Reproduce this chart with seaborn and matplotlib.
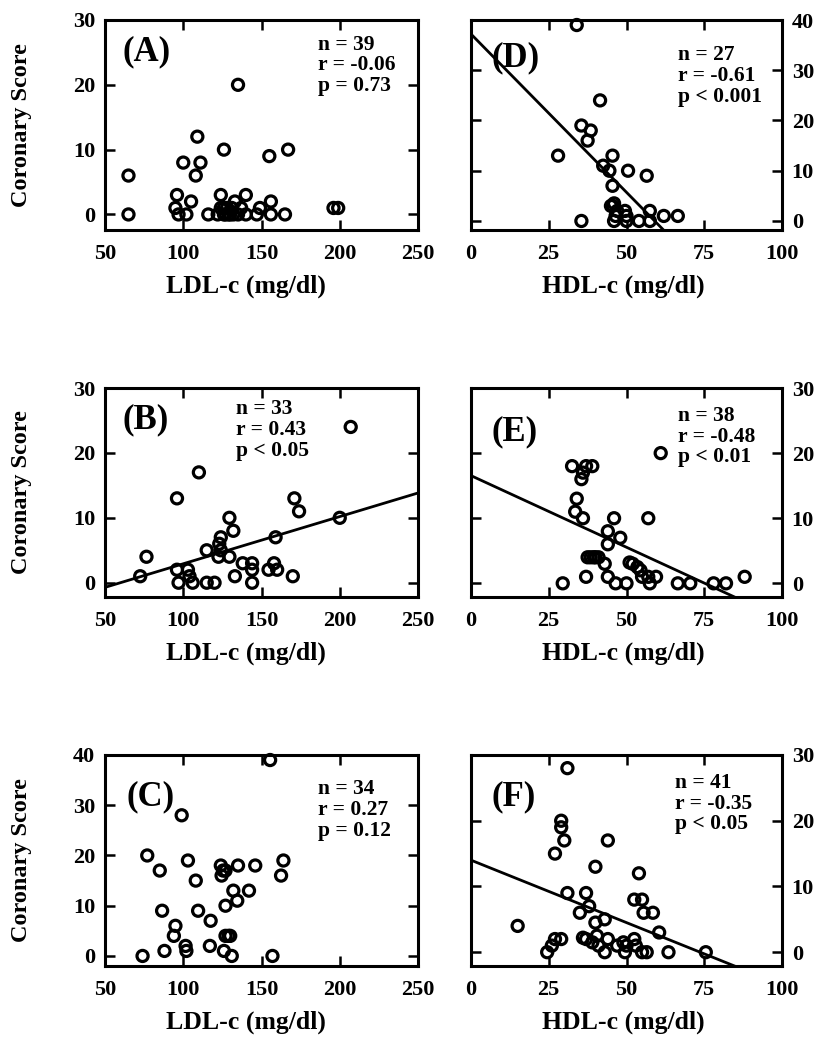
import numpy as np
import pandas as pd
import matplotlib
matplotlib.use("Agg")
import matplotlib.pyplot as plt
import seaborn as sns

sns.set_style("ticks")
plt.rcParams["font.family"] = ["Liberation Serif", "DejaVu Serif"]
plt.rcParams["font.weight"] = "bold"
for key in ["text.color", "axes.labelcolor", "xtick.color", "ytick.color", "axes.edgecolor"]:
    plt.rcParams[key] = "black"

# ---- data: coronary score vs LDL-c (left) and HDL-c (right) ----
ldl_a = [65, 65, 135, 109, 100, 111, 108, 126, 155, 167,
         96, 95, 97, 102, 105, 116, 122, 124, 124, 126,
         128, 129, 131, 132, 133, 135, 140, 140, 147, 149,
         156, 156, 165, 196, 199, 127, 130, 126, 137]
score_a = [6, 0, 20, 12, 8, 8, 6, 10, 9, 10,
           3, 1, 0, 0, 2, 0, 0, 3, 1, 0,
           1, 0, 1, 0, 2, 0, 3, 0, 0, 1,
           2, 0, 0, 1, 1, 0, 0, 1, 1]

ldl_b = [72.5, 76.5, 96, 110, 207, 96, 97, 103, 104, 106,
         115, 115, 120, 122.5, 123, 124, 129.5, 132, 129.5, 133,
         138, 144, 144, 144, 154.5, 158, 160, 159, 171, 174,
         170, 200, 124]
score_b = [1, 4, 13, 17, 24, 2, 0, 2, 1, 0,
           5, 0, 0, 4, 6, 7, 10, 8, 4, 1,
           3, 3, 2, 0, 2, 3, 2, 7, 13, 11,
           1, 10, 5]

ldl_c = [74, 77, 85, 86.5, 88, 95, 94, 99, 101.5, 102,
         103, 108, 109.5, 117.5, 117, 124, 124.5, 127, 126, 127,
         127, 130, 131, 132, 134.5, 135, 142, 146, 155.5, 157,
         162.5, 164, 125.5, 129]
score_c = [0, 20, 17, 9, 1, 6, 4, 28, 2, 1,
           19, 15, 9, 7, 2, 18, 16, 17, 1, 10,
           4, 4, 0, 13, 11, 18, 13, 18, 39, 0,
           16, 19, 17, 4]

hdl_d = [34, 41.5, 35.5, 38.5, 37.5, 28, 45.5, 42.5, 44.5, 50.5,
         56.5, 45.5, 45, 45.5, 46, 47, 49.5, 50, 57.5, 62,
         66.5, 35.5, 46, 50, 54, 57.5, 46.5]
score_d = [39, 24, 19, 18, 16, 13, 13, 11, 10, 10,
           9, 7, 3, 3, 3.5, 2, 2, 1, 2, 1,
           1, 0, 0, 0, 0, 0, 1]

hdl_e = [29.5, 32.5, 37, 39, 36, 35.5, 34, 33.5, 36, 37,
         37.5, 38.5, 39.5, 41, 43, 44, 44, 44, 46, 48,
         46.5, 50, 51, 52, 53.5, 54.5, 55, 57, 57.5, 59.5,
         61, 66.5, 70.5, 78, 82, 88, 57, 40]
score_e = [0, 18, 18, 18, 17, 16, 13, 11, 10, 1,
           4, 4, 4, 4, 3, 1, 8, 6, 10, 7,
           0, 0, 3.2, 3, 2.5, 2, 1, 10, 0, 1,
           20, 0, 0, 0, 0, 1, 1, 4]

hdl_f = [31, 29, 29, 30, 27, 44, 40, 54, 31, 37,
         38, 35, 52.5, 55, 55.5, 58.5, 43, 40, 15, 60.5,
         27, 29, 26, 24.5, 37, 39, 40.5, 41, 43, 47,
         49.5, 50, 52.5, 53, 56.5, 63.5, 75.5, 55, 36, 49, 44]
score_f = [28, 20, 19, 17, 15, 17, 13, 12, 9, 9,
           7, 6, 8, 8, 6, 6, 5, 4.5, 4, 3,
           2, 2, 1, 0, 2, 1.5, 2.5, 1, 0, 1,
           0, 1, 2, 1, 0, 0, 0, 0, 2.2, 1.5, 2]

# regression lines (intercept, slope)
fit_b = (-4.35, 0.0727)
fit_d = (37.2, -0.63)
fit_e = (16.54, -0.22)
fit_f = (14.0, -0.19)

panel_letters = ["(A)", "(B)", "(C)", "(D)", "(E)", "(F)"]
stats_text = ["n = 39\nr = -0.06\np = 0.73",
              "n = 33\nr = 0.43\np < 0.05",
              "n = 34\nr = 0.27\np = 0.12",
              "n = 27\nr = -0.61\np < 0.001",
              "n = 38\nr = -0.48\np < 0.01",
              "n = 41\nr = -0.35\np < 0.05"]

ldl_ticks = [50, 100, 150, 200, 250]
hdl_ticks = [0, 25, 50, 75, 100]

W, H = 821, 1039
fig = plt.figure(figsize=(W / 100, H / 100), dpi=100)

cols = [(105, 418), (471, 782)]
rows = [(20, 230), (388, 597), (755, 966)]


def make_axes(col, row):
    x0, x1 = cols[col]
    y0, y1 = rows[row]
    return fig.add_axes([x0 / W, 1 - y1 / H, (x1 - x0) / W, (y1 - y0) / H])


panels = [
    # col, row, x, y, fit, ylim, yticks, letter pos, stats pos
    (0, 0, ldl_a, score_a, None, (-2.4, 30), [0, 10, 20, 30], (0.055, 0.85), (0.68, 0.93)),
    (0, 1, ldl_b, score_b, fit_b, (-2.2, 30), [0, 10, 20, 30], (0.055, 0.85), (0.42, 0.945)),
    (0, 2, ldl_c, score_c, None, (-2.0, 40), [0, 10, 20, 30, 40], (0.07, 0.80), (0.68, 0.885)),
    (1, 0, hdl_d, score_d, fit_d, (-1.8, 40), [0, 10, 20, 30, 40], (0.065, 0.82), (0.665, 0.88)),
    (1, 1, hdl_e, score_e, fit_e, (-2.1, 30), [0, 10, 20, 30], (0.065, 0.79), (0.665, 0.915)),
    (1, 2, hdl_f, score_f, fit_f, (-2.1, 30), [0, 10, 20, 30], (0.065, 0.80), (0.655, 0.915)),
]

for i, (col, row, xs, ys, fit, ylim, yticks, lpos, spos) in enumerate(panels):
    ax = make_axes(col, row)
    df = pd.DataFrame({"x": xs, "y": ys})
    if col == 0:
        xlim, xticks, xlabel = (50, 250), ldl_ticks, "LDL-c (mg/dl)"
    else:
        xlim, xticks, xlabel = (0, 100), hdl_ticks, "HDL-c (mg/dl)"

    if fit is not None:
        b0, b1 = fit
        lx = np.array(xlim, dtype=float)
        line_df = pd.DataFrame({"x": lx, "y": b0 + b1 * lx})
        sns.lineplot(data=line_df, x="x", y="y", ax=ax, color="black",
                     linewidth=2.0, zorder=2)

    sns.scatterplot(data=df, x="x", y="y", ax=ax, s=64, marker="o",
                    facecolor="none", edgecolor="black", linewidth=2.3,
                    zorder=3, clip_on=False)

    ax.set_xlim(*xlim)
    ax.set_ylim(*ylim)
    ax.set_xticks(xticks)
    ax.set_yticks(yticks)
    for s in ax.spines.values():
        s.set_linewidth(2.2)
        s.set_color("black")
    ax.tick_params(direction="in", length=7, width=1.8, top=True, right=True,
                   labelsize=16, colors="black")
    ax.tick_params(axis="x", pad=10)
    ax.tick_params(axis="y", pad=7)
    if col == 1:
        ax.tick_params(axis="y", labelleft=False, labelright=True)
    for lab in ax.get_xticklabels() + ax.get_yticklabels():
        lab.set_fontweight("bold")

    ax.set_xlabel(xlabel, fontsize=18.5, fontweight="bold")
    ax.xaxis.label.set_va("center")
    if col == 0:
        ax.xaxis.set_label_coords(0.45, -0.268)
        ax.set_ylabel("Coronary Score", fontsize=17.5, fontweight="bold")
        ax.yaxis.set_label_coords(-0.232, 0.5)
    else:
        ax.xaxis.set_label_coords(0.49, -0.268)
        ax.set_ylabel("")

    ax.text(lpos[0], lpos[1], panel_letters[i], transform=ax.transAxes,
            fontsize=25, fontweight="bold", va="center", ha="left")
    ax.text(spos[0], spos[1], stats_text[i], transform=ax.transAxes,
            fontsize=15.5, fontweight="bold", va="top", ha="left", linespacing=1.05)

fig.savefig("out.png", dpi=100)
